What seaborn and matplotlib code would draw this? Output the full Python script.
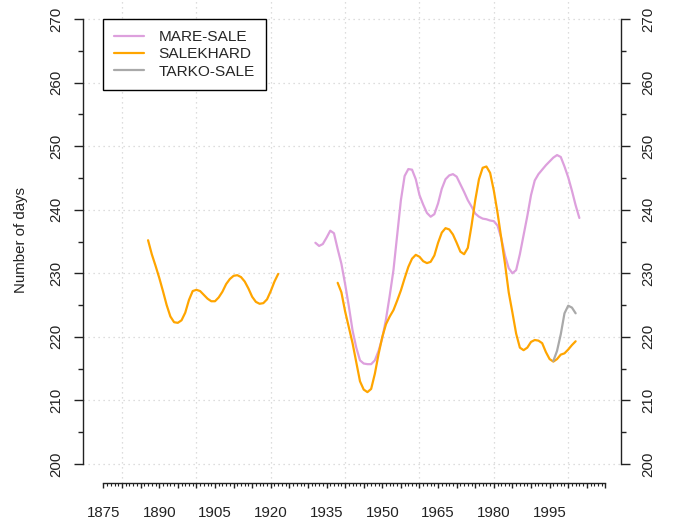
import pandas as pd
import matplotlib
matplotlib.use('Agg')
import matplotlib.pyplot as plt
import seaborn as sns
import numpy as np

# Number of days per year (smoothed curves)
salekhard_years_1 = list(range(1887, 1923))
salekhard_vals_1 = [235.2, 233.0, 231.2, 229.3, 227.2, 225.0, 223.2, 222.3, 222.2, 222.6,
                    223.8, 225.8, 227.2, 227.4, 227.2, 226.6, 226.0, 225.6, 225.6, 226.2,
                    227.1, 228.3, 229.1, 229.6, 229.7, 229.4, 228.7, 227.6, 226.3, 225.5,
                    225.2, 225.3, 225.9, 227.2, 228.7, 229.9]

salekhard_years_2 = list(range(1938, 2003))
salekhard_vals_2 = [228.5, 227.0, 224.0, 221.5, 219.0, 216.0, 213.0, 211.7, 211.3, 211.8,
                    214.2, 217.3, 220.0, 222.0, 223.2, 224.2, 225.7, 227.3, 229.2, 231.0,
                    232.3, 232.9, 232.6, 231.9, 231.6, 231.8, 232.8, 234.8, 236.4, 237.1,
                    236.9, 236.1, 234.8, 233.4, 233.0, 234.0, 237.5, 241.5, 244.8, 246.6,
                    246.8, 245.8, 243.0, 239.5, 235.5, 231.5, 227.0, 223.8, 220.5, 218.3,
                    217.9, 218.3, 219.2, 219.5, 219.4, 219.0, 217.6, 216.5, 216.1, 216.5,
                    217.2, 217.4, 218.0, 218.7, 219.3]

mare_sale_years = list(range(1932, 2004))
mare_sale_vals = [234.8, 234.3, 234.6, 235.6, 236.7, 236.3, 233.8, 231.5, 228.3, 224.8,
                  221.0, 218.3, 216.3, 215.8, 215.7, 215.7, 216.3, 217.8, 219.8, 222.8,
                  226.5, 230.5, 236.0, 241.5, 245.3, 246.4, 246.3, 244.8, 242.3, 240.8,
                  239.5, 238.9, 239.3, 241.0, 243.3, 244.8, 245.4, 245.6, 245.2, 244.0,
                  242.8, 241.5, 240.5, 239.4, 238.9, 238.6, 238.5, 238.3, 238.2, 237.5,
                  235.5, 232.8, 230.8, 230.0, 230.5, 233.0, 236.0, 239.0, 242.3, 244.6,
                  245.6, 246.3, 247.0, 247.6, 248.2, 248.6, 248.3, 246.8, 245.1, 243.0,
                  240.7, 238.7]

tarko_sale_years = list(range(1996, 2003))
tarko_sale_vals = [216.2, 217.8, 220.4, 223.7, 224.9, 224.6, 223.7]

stations = ['MARE-SALE', 'SALEKHARD', 'TARKO-SALE']
colors = ['plum', 'orange', 'darkgray']

x_major = list(range(1875, 2011, 5))
x_labels = ['1875', '1890', '1905', '1920', '1935', '1950', '1965', '1980', '1995']
y_ticks = list(range(200, 271, 10))

# long table, one segment id per continuous piece
parts = [
    ('MARE-SALE', 1, mare_sale_years, mare_sale_vals),
    ('SALEKHARD', 2, salekhard_years_1, salekhard_vals_1),
    ('SALEKHARD', 3, salekhard_years_2, salekhard_vals_2),
    ('TARKO-SALE', 4, tarko_sale_years, tarko_sale_vals),
]
df = pd.concat([pd.DataFrame({'year': yrs, 'days': vals, 'station': st, 'seg': sg})
                for st, sg, yrs, vals in parts], ignore_index=True)

sns.set_style('white')
plt.rcParams['font.family'] = ['Liberation Sans', 'DejaVu Sans']

fig = plt.figure(figsize=(6.77, 5.28), dpi=100)
ax = fig.add_axes([83 / 677, 45 / 528, 538 / 677, 483 / 528])

# grid first (R style dotted light gray)
for gx in range(1880, 2001, 20):
    ax.axvline(gx, color='#d3d3d3', lw=0.9, ls=(0, (1, 3)), zorder=0)
for gy in y_ticks:
    ax.axhline(gy, color='#d3d3d3', lw=0.9, ls=(0, (1, 3)), zorder=0)

sns.lineplot(data=df, x='year', y='days', hue='station', hue_order=stations,
             palette=dict(zip(stations, colors)), units='seg', estimator=None,
             lw=1.6, ax=ax, legend=True, zorder=2)

ax.set_xlim(1869.5, 2014.2)
ax.set_ylim(197.0, 273.0)
ax.set_xlabel('')
ax.set_ylabel('')

# axes like R: separate axis lines, no box
ax.spines['top'].set_visible(False)
for s in ['left', 'right', 'bottom']:
    ax.spines[s].set_visible(True)
    ax.spines[s].set_color('#222222')
    ax.spines[s].set_linewidth(1.0)
ax.spines['left'].set_bounds(200, 270)
ax.spines['right'].set_bounds(200, 270)
ax.spines['bottom'].set_bounds(1875, 2010)

ax.set_xticks(x_major)
ax.set_xticklabels([str(y) if str(y) in x_labels else '' for y in x_major])
ax.set_xticks(list(range(1875, 2011)), minor=True)
ax.tick_params(axis='x', which='major', length=3.5, width=1, color='#222222',
               pad=13, labelsize=10.8, direction='out', bottom=True)
ax.tick_params(axis='x', which='minor', length=1.8, width=0.8, color='#222222',
               direction='out', bottom=True)

ax.set_yticks(y_ticks)
ax.set_yticks(list(range(205, 270, 10)), minor=True)
ax.tick_params(axis='y', which='major', length=6.5, width=1, color='#222222',
               pad=8, labelsize=10.8, direction='out', left=True, right=True,
               labelleft=True, labelright=True, labelrotation=90)
ax.tick_params(axis='y', which='minor', length=3.5, width=1, color='#222222',
               direction='out', left=True, right=True)
for t in ax.yaxis.get_major_ticks():
    t.label1.set_va('center')
    t.label2.set_va('center')
    t.label1.set_color('#222222')
    t.label2.set_color('#222222')
for t in ax.xaxis.get_major_ticks():
    t.label1.set_color('#222222')

fig.text(21 / 677, 1 - 240 / 528, 'Number of days', rotation=90,
         ha='center', va='center', fontsize=10.8, color='#222222')

leg = ax.legend(loc='upper left', bbox_to_anchor=(0.037, 0.961), borderaxespad=0,
                fontsize=11.1, frameon=True, fancybox=False, edgecolor='black',
                framealpha=1, handlelength=1.9, handletextpad=0.95,
                labelspacing=0.2, borderpad=0.75, title=None)
leg.get_frame().set_linewidth(1.0)
leg.set_zorder(5)
for h in leg.get_lines():
    h.set_linewidth(1.6)

fig.savefig('out.png', dpi=100)
